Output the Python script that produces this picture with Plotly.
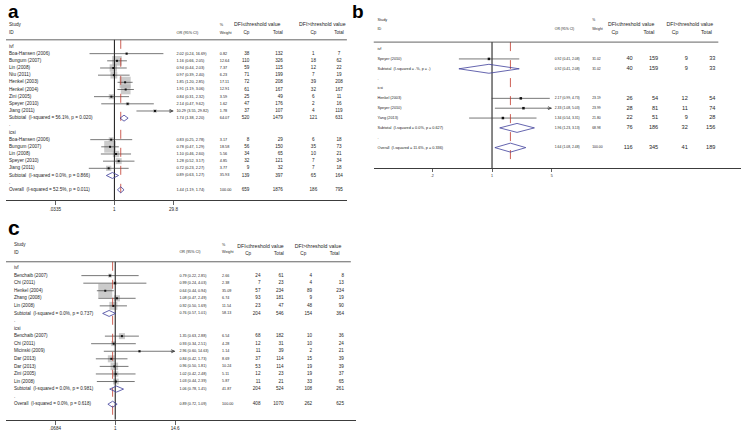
import math
import plotly.graph_objects as go

W, H = 746, 431
FONT = "Liberation Sans, Arial, Helvetica, sans-serif"
TXT = "#262626"
LINE = "#3c3c3c"
DIAM = "#3f3f9a"
RED = "#c0392b"
BOX = "#b5b5b5"

HEAD_LE = "DFI≤threshold value"
HEAD_GT = "DFI>threshold value"

# ---------------- Panel a data ----------------
A_GROUPS = ["ivf", "icsi"]
A_LABEL = ["Boa-Hansen (2006)", "Bungum (2007)", "Lin (2008)", "Niu (2011)", "Henkel (2003)",
           "Henkel (2004)", "Zini (2005)", "Speyer (2010)", "Jiang (2011)",
           "Subtotal  (I-squared = 56.1%, p = 0.020)",
           "Boa-Hansen (2006)", "Bungum (2007)", "Lin (2008)", "Speyer (2010)", "Jiang (2011)",
           "Subtotal  (I-squared = 0.0%, p = 0.866)",
           "Overall  (I-squared = 52.5%, p = 0.011)"]
A_KIND = ["s"] * 9 + ["sub"] + ["s"] * 5 + ["sub", "all"]
A_OR = [2.02, 1.16, 0.94, 0.97, 1.85, 1.91, 0.84, 2.14, 10.29, 1.74, 0.83, 0.78, 1.10, 1.28, 0.72, 0.89, 1.44]
A_LO = [0.24, 0.66, 0.44, 0.39, 1.20, 1.19, 0.31, 0.47, 3.55, 1.38, 0.25, 0.47, 0.46, 0.52, 0.23, 0.63, 1.19]
A_HI = [16.69, 2.05, 2.03, 2.40, 2.85, 3.06, 2.32, 9.62, 29.82, 2.20, 2.78, 1.29, 2.60, 3.17, 2.27, 1.27, 1.74]
A_WT = [0.82, 12.64, 7.37, 6.23, 17.11, 12.91, 3.59, 1.62, 1.78, 64.07, 3.17, 18.58, 5.56, 4.85, 3.77, 35.93, 100.00]
A_CP_LE = [38, 110, 59, 71, 72, 61, 25, 47, 37, 520, 8, 56, 34, 32, 9, 139, 659]
A_TOT_LE = [132, 326, 115, 199, 208, 167, 49, 176, 107, 1479, 29, 150, 65, 121, 32, 397, 1876]
A_CP_GT = [1, 18, 12, 7, 39, 32, 6, 2, 4, 121, 6, 35, 10, 7, 7, 65, 186]
A_TOT_GT = [7, 62, 22, 19, 208, 167, 11, 16, 119, 631, 18, 73, 21, 34, 18, 164, 795]
A_TICKS = [0.0335, 1, 29.8]
A_TICKTEXT = [".0335", "1", "29.8"]

# ---------------- Panel b data ----------------
B_GROUPS = ["ivf", "icsi"]
B_LABEL = ["Speyer (2010)", "Subtotal  (I-squared = .%, p = .)",
           "Henkel (2003)", "Speyer (2010)", "Yang (2013)",
           "Subtotal  (I-squared = 0.0%, p = 0.627)",
           "Overall  (I-squared = 11.6%, p = 0.336)"]
B_KIND = ["s", "sub", "s", "s", "s", "sub", "all"]
B_OR = [0.92, 0.92, 2.17, 2.33, 1.34, 1.96, 1.64]
B_LO = [0.41, 0.41, 0.99, 1.08, 0.54, 1.23, 1.08]
B_HI = [2.08, 2.08, 4.73, 5.03, 3.31, 3.13, 2.48]
B_WT = [31.02, 31.02, 23.19, 23.99, 21.80, 68.98, 100.00]
B_CP_LE = [40, 40, 26, 28, 22, 76, 116]
B_TOT_LE = [159, 159, 54, 81, 51, 186, 345]
B_CP_GT = [9, 9, 12, 11, 9, 32, 41]
B_TOT_GT = [33, 33, 54, 74, 28, 156, 189]
B_TICKS = [0.2, 1, 5]
B_TICKTEXT = [".2", "1", "5"]

# ---------------- Panel c data ----------------
C_GROUPS = ["ivf", "icsi"]
C_LABEL = ["Benchaib (2007)", "Chi (2011)", "Henkel (2004)", "Zhang (2008)", "Lin (2008)",
           "Subtotal  (I-squared = 0.0%, p = 0.737)",
           "Benchaib (2007)", "Chi (2011)", "Micinski (2009)", "Dar (2013)", "Dar (2013)",
           "Zini (2005)", "Lin (2008)",
           "Subtotal  (I-squared = 0.0%, p = 0.981)",
           "Overall  (I-squared = 0.0%, p = 0.618)"]
C_KIND = ["s"] * 5 + ["sub"] + ["s"] * 7 + ["sub", "all"]
C_OR = [0.79, 0.99, 0.64, 1.08, 0.92, 0.76, 1.35, 0.93, 2.96, 0.84, 0.96, 1.02, 1.03, 1.06, 0.89]
C_LO = [0.22, 0.24, 0.44, 0.47, 0.50, 0.57, 0.63, 0.34, 0.60, 0.42, 0.50, 0.42, 0.44, 0.78, 0.72]
C_HI = [2.85, 4.03, 0.94, 2.49, 1.69, 1.01, 2.88, 2.51, 14.63, 1.73, 1.81, 2.48, 2.39, 1.45, 1.09]
C_WT = [2.66, 2.38, 35.09, 6.74, 11.54, 58.13, 6.54, 4.28, 1.14, 8.69, 10.24, 5.11, 5.87, 41.87, 100.00]
C_CP_LE = [24, 7, 57, 93, 23, 204, 68, 12, 11, 37, 53, 12, 11, 204, 408]
C_TOT_LE = [61, 23, 234, 181, 47, 546, 182, 31, 39, 114, 114, 23, 21, 524, 1070]
C_CP_GT = [4, 4, 89, 9, 48, 154, 10, 10, 2, 15, 19, 19, 33, 108, 262]
C_TOT_GT = [8, 13, 234, 19, 90, 364, 36, 24, 21, 39, 39, 37, 65, 261, 625]
C_TICKS = [0.0684, 1, 14.6]
C_TICKTEXT = [".0684", "1", "14.6"]


def layout_rows(kinds):
    rows, heads, dots = [], [0], []
    r = 1
    for i, k in enumerate(kinds):
        rows.append(r)
        r += 1
        if k == "sub":
            dots.append(r)
            r += 1
            if i + 1 < len(kinds) and kinds[i + 1] == "s":
                heads.append(r)
                r += 1
    return rows, heads, dots


fig = go.Figure()
annotations = []
layout = {}
POS = {"left": "middle right", "right": "middle left", "center": "middle center"}


def add_text(xref, yref, xs, ys, texts, align, size):
    fig.add_trace(go.Scatter(x=xs, y=ys, text=texts, mode="text", textposition=POS[align],
                             textfont=dict(size=size, color=TXT, family=FONT),
                             cliponaxis=False, xaxis=xref, yaxis=yref,
                             hoverinfo="skip", showlegend=False))


def add_panel(n, d, cfg):
    nf, nt, ny = 2 * n - 1, 2 * n, n
    xf = "x" if nf == 1 else f"x{nf}"
    xt = f"x{nt}"
    ya = "y" if ny == 1 else f"y{ny}"
    kf = "xaxis" if nf == 1 else f"xaxis{nf}"
    kt = f"xaxis{nt}"
    ky = "yaxis" if ny == 1 else f"yaxis{ny}"

    def R(py):
        return (py - cfg["row0"]) / cfg["dy"]

    rows, heads, dots = layout_rows(d["kind"])
    t0, t1 = d["ticks"][0], d["ticks"][-1]

    layout[ky] = dict(domain=[1 - cfg["bottom"] / H, 1 - cfg["top"] / H],
                      range=[R(cfg["bottom"]), R(cfg["top"])], visible=False, fixedrange=True)
    layout[kf] = dict(type="log", domain=[cfg["tpx"][0] / W, cfg["tpx"][1] / W],
                      range=[math.log10(t0), math.log10(t1)], anchor=ya,
                      tickmode="array", tickvals=d["ticks"], ticktext=d["ticktext"],
                      ticks="outside", ticklen=cfg["ticklen"], tickwidth=0.8, tickcolor=LINE,
                      tickfont=dict(size=cfg["tickfont"], color=TXT, family=FONT),
                      showline=False, showgrid=False, zeroline=False, fixedrange=True)
    layout[kt] = dict(domain=[cfg["xL"] / W, cfg["xR"] / W], range=[cfg["xL"], cfg["xR"]],
                      anchor=ya, showline=True, linecolor=LINE, linewidth=1, ticks="",
                      showticklabels=False, showgrid=False, zeroline=False, fixedrange=True)

    common = dict(hoverinfo="skip", showlegend=False)
    # header rule
    fig.add_trace(go.Scatter(x=list(cfg["hline_x"]), y=[R(cfg["hline"])] * 2, mode="lines",
                             line=dict(color=LINE, width=0.8), xaxis=xt, yaxis=ya, **common))
    ry0, ry1 = R(cfg["hline"]), R(cfg["bottom"])
    studies = [i for i, k in enumerate(d["kind"]) if k == "s"]

    # boxes
    if cfg["box"]:
        fig.add_trace(go.Scatter(x=[d["or"][i] for i in studies], y=[rows[i] for i in studies],
                                 mode="markers", cliponaxis=False,
                                 marker=dict(symbol="square", color=BOX, line=dict(width=0),
                                             size=[cfg["box"] * math.sqrt(d["wt"][i]) for i in studies]),
                                 xaxis=xf, yaxis=ya, **common))
    # null line
    fig.add_trace(go.Scatter(x=[1, 1], y=[ry0, ry1], mode="lines", line=dict(color="#111111", width=1),
                             xaxis=xf, yaxis=ya, **common))
    # CI lines
    cx, cy = [], []
    for i in studies:
        lo = max(d["lo"][i], t0)
        hi = min(d["hi"][i], t1)
        cx += [lo, hi, None]
        cy += [rows[i], rows[i], None]
        if d["hi"][i] > t1:
            annotations.append(dict(x=math.log10(t1), y=rows[i], xref=xf, yref=ya, text="",
                                    showarrow=True, ax=-6, ay=0, arrowhead=5, arrowsize=0.9,
                                    arrowwidth=0.7, arrowcolor=LINE, standoff=0))
        if d["lo"][i] < t0:
            annotations.append(dict(x=math.log10(t0), y=rows[i], xref=xf, yref=ya, text="",
                                    showarrow=True, ax=6, ay=0, arrowhead=5, arrowsize=0.9,
                                    arrowwidth=0.7, arrowcolor=LINE, standoff=0))
    fig.add_trace(go.Scatter(x=cx, y=cy, mode="lines", line=dict(color=LINE, width=0.7),
                             xaxis=xf, yaxis=ya, **common))
    # overall dashed line
    ov = d["or"][-1]
    fig.add_trace(go.Scatter(x=[ov, ov], y=[ry0, ry1], mode="lines",
                             line=dict(color=RED, width=0.8, dash="dash"),
                             xaxis=xf, yaxis=ya, **common))
    # point estimates
    fig.add_trace(go.Scatter(x=[d["or"][i] for i in studies], y=[rows[i] for i in studies],
                             mode="markers", cliponaxis=False,
                             marker=dict(symbol="square", size=cfg["pt"], color="#111111"),
                             xaxis=xf, yaxis=ya, **common))
    # diamonds
    dx, dyy = [], []
    hh = cfg["dh"] / cfg["dy"]
    for i, k in enumerate(d["kind"]):
        if k in ("sub", "all"):
            o, l, h, r = d["or"][i], d["lo"][i], d["hi"][i], rows[i]
            dx += [l, o, h, o, l, None]
            dyy += [r, r - hh, r, r + hh, r, None]
    fig.add_trace(go.Scatter(x=dx, y=dyy, mode="lines", line=dict(color=DIAM, width=0.8),
                             xaxis=xf, yaxis=ya, **common))

    # text columns
    cols = cfg["cols"]
    x, al, sz = cols["label"]
    add_text(xt, ya, [x] * len(rows), rows, d["label"], al, sz)
    add_text(xt, ya, [x] * len(heads), heads, d["groups"], al, sz)
    add_text(xt, ya, [x] * len(dots), dots, ["."] * len(dots), al, sz)
    x, al, sz = cols["or"]
    add_text(xt, ya, [x] * len(rows), rows,
             [f"{o:.2f} ({l:.2f}, {h:.2f})" for o, l, h in zip(d["or"], d["lo"], d["hi"])], al, sz)
    x, al, sz = cols["wt"]
    add_text(xt, ya, [x] * len(rows), rows, [f"{w:.2f}" for w in d["wt"]], al, sz)
    for key in ("cp_le", "tot_le", "cp_gt", "tot_gt"):
        x, al, sz = cols[key]
        add_text(xt, ya, [x] * len(rows), [r + cfg["numoff"] for r in rows],
                 [str(v) for v in d[key]], al, sz)
    for text, hx, hy, al, sz in cfg["headers"]:
        add_text(xt, ya, [hx], [R(hy)], [text], al, sz)

    t, px, py, sz = cfg["plabel"]
    annotations.append(dict(x=px / W, y=1 - py / H, xref="paper", yref="paper", text=f"<b>{t}</b>",
                            showarrow=False, xanchor="left", yanchor="top", borderpad=0,
                            font=dict(size=sz, color="#000000", family=FONT)))


A = dict(groups=A_GROUPS, label=A_LABEL, kind=A_KIND, ticks=A_TICKS, ticktext=A_TICKTEXT,
         wt=A_WT, cp_le=A_CP_LE, tot_le=A_TOT_LE, cp_gt=A_CP_GT, tot_gt=A_TOT_GT)
A["or"], A["lo"], A["hi"] = A_OR, A_LO, A_HI
B = dict(groups=B_GROUPS, label=B_LABEL, kind=B_KIND, ticks=B_TICKS, ticktext=B_TICKTEXT,
         wt=B_WT, cp_le=B_CP_LE, tot_le=B_TOT_LE, cp_gt=B_CP_GT, tot_gt=B_TOT_GT)
B["or"], B["lo"], B["hi"] = B_OR, B_LO, B_HI
C = dict(groups=C_GROUPS, label=C_LABEL, kind=C_KIND, ticks=C_TICKS, ticktext=C_TICKTEXT,
         wt=C_WT, cp_le=C_CP_LE, tot_le=C_TOT_LE, cp_gt=C_CP_GT, tot_gt=C_TOT_GT)
C["or"], C["lo"], C["hi"] = C_OR, C_LO, C_HI

A_CFG = dict(xL=0, xR=346, top=14, hline=40, bottom=201, row0=46.7, dy=7.2, tpx=(50, 170),
             hline_x=(0, 346), ticklen=4, tickfont=4.6, box=2.71, pt=2, dh=3.0, numoff=0,
             cols=dict(label=(3, "left", 4.7), **{"or": (173, "left", 3.8)}, wt=(217, "left", 3.8),
                       cp_le=(247, "right", 4.6), tot_le=(281, "right", 4.6),
                       cp_gt=(312, "center", 4.6), tot_gt=(338, "center", 4.6)),
             headers=[("Study", 3, 25, "left", 4.7), ("ID", 3, 33, "left", 4.7),
                      ("OR (95% CI)", 173, 33, "left", 3.8), ("%", 217, 25, "left", 3.8),
                      ("Weight", 217, 33, "left", 3.8), (HEAD_LE, 255, 25, "center", 5.2),
                      ("Cp", 244, 33, "center", 4.6), ("Total", 276, 33, "center", 4.6),
                      (HEAD_GT, 321, 25, "center", 5.2), ("Cp", 312, 33, "center", 4.6),
                      ("Total", 338, 33, "center", 4.6)],
             plabel=("a", 1, 0, 19))

B_CFG = dict(xL=373, xR=746, top=12, hline=42.3, bottom=169, row0=49.3, dy=9.9, tpx=(432.6, 554),
             hline_x=(373, 723), ticklen=3, tickfont=3.6, box=0, pt=2.5, dh=4.5, numoff=0,
             cols=dict(label=(377, "left", 3.8), **{"or": (557, "left", 3.4)}, wt=(595, "left", 3.4),
                       cp_le=(636, "right", 5.6), tot_le=(662, "right", 5.6),
                       cp_gt=(692, "right", 5.6), tot_gt=(720, "right", 5.6)),
             headers=[("Study", 377, 20, "left", 3.8), ("ID", 377, 29, "left", 3.8),
                      ("OR (95% CI)", 557, 29.3, "left", 3.4), ("%", 595, 20, "left", 3.4),
                      ("Weight", 595, 29.3, "left", 3.4), (HEAD_LE, 634.5, 25.3, "center", 5.2),
                      ("Cp", 618, 32.7, "center", 5.2), ("Total", 652.5, 32.7, "center", 5.2),
                      (HEAD_GT, 694, 25.3, "center", 5.2), ("Cp", 679, 32.7, "center", 5.2),
                      ("Total", 711, 32.7, "center", 5.2)],
             plabel=("b", 350, 0, 19))

C_CFG = dict(xL=0, xR=355, top=236, hline=263, bottom=421.7, row0=269.3, dy=7.6, tpx=(50, 171.7),
             hline_x=(0, 350), ticklen=4, tickfont=4.6, box=2.36, pt=2, dh=3.0, numoff=0,
             cols=dict(label=(8, "left", 4.6), **{"or": (176, "left", 3.7)}, wt=(219.3, "left", 3.7),
                       cp_le=(258.3, "right", 4.6), tot_le=(281.7, "right", 4.6),
                       cp_gt=(310.7, "right", 4.6), tot_gt=(343, "right", 4.6)),
             headers=[("Study", 8, 245.7, "left", 4.6), ("ID", 8, 254, "left", 4.6),
                      ("OR (95% CI)", 176, 253.3, "left", 3.7), ("%", 219.3, 246, "left", 3.7),
                      ("Weight", 219.3, 253.3, "left", 3.7), (HEAD_LE, 258.3, 247.7, "center", 5.2),
                      ("Cp", 245.7, 255, "center", 4.6), ("Total", 277, 255, "center", 4.6),
                      (HEAD_GT, 316.7, 247.7, "center", 5.2), ("Cp", 301.7, 255, "center", 4.6),
                      ("Total", 333.5, 255, "center", 4.6)],
             plabel=("c", 1, 216, 21))

add_panel(1, A, A_CFG)
add_panel(2, B, B_CFG)
add_panel(3, C, C_CFG)

fig.update_layout(width=W, height=H, margin=dict(l=0, r=0, t=0, b=0),
                  paper_bgcolor="white", plot_bgcolor="rgba(0,0,0,0)",
                  showlegend=False, annotations=annotations, **layout)

fig.write_html("out.html", config={"displayModeBar": False, "staticPlot": True},
               post_script="document.body.style.margin='0px';document.body.style.padding='0px';")
